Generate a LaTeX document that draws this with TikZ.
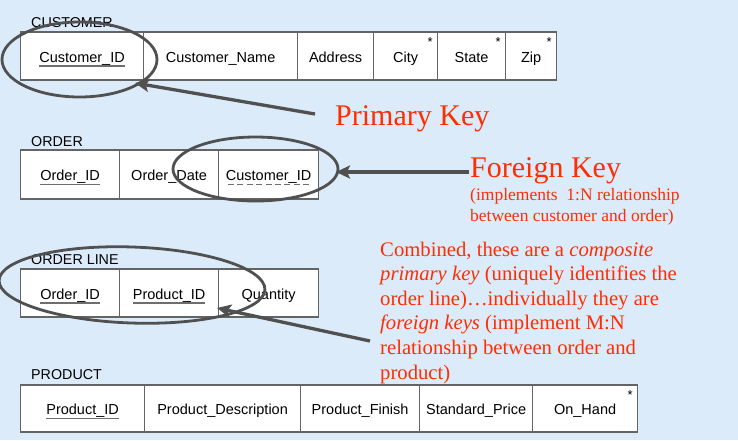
\documentclass[tikz,border=0pt]{standalone}
\usepackage{fontspec}
\setmainfont{Liberation Serif}
\newfontfamily\arialfont{Liberation Sans}
\usetikzlibrary{shapes.geometric,arrows.meta,calc}
\definecolor{bgblue}{RGB}{220,235,250}
\definecolor{keyred}{RGB}{255,45,0}
\definecolor{linegray}{RGB}{80,80,80}
\definecolor{cellgray}{RGB}{100,100,100}
\definecolor{ulgray}{RGB}{110,110,110}
\newcommand\pkul[1]{\setbox0\hbox{#1}\rlap{\color{ulgray}\rule[-4.5pt]{\wd0}{1.3pt}}\box0}
\newcommand\fkul[1]{\setbox0\hbox{#1}\rlap{\color{ulgray}\hbox to \wd0{\xleaders\hbox to 9pt{\hss\rule[-4.5pt]{6pt}{1.3pt}\hss}\hfill}}\box0}
\begin{document}
\begin{tikzpicture}[x=1pt,y=-1pt,
  cell/.style={draw=cellgray, line width=1.2pt, fill=white, inner sep=0pt,
    font=\arialfont\fontsize{14.5}{16}\selectfont, text height=12pt, text depth=0pt, anchor=west},
  tlabel/.style={anchor=base west, inner sep=0pt, font=\arialfont\fontsize{14.3}{16}\selectfont},
  astx/.style={inner sep=0pt, font=\arialfont\fontsize{13}{13}\selectfont},
  keyell/.style={draw=linegray, line width=2.8pt, ellipse, inner sep=0pt},
  keyarrow/.style={draw=linegray, line width=3.3pt, -{Stealth[length=14pt,width=13pt,inset=3pt]}},
  redtxt/.style={text=keyred, inner sep=0pt, anchor=base west, align=left}
]
\fill[bgblue] (0,0) rectangle (738,440);
\useasboundingbox (0,0) rectangle (738,440);

% CUSTOMER
\node[tlabel] (lcust) at (31,27) {CUSTOMER};
\node[cell, minimum width=123pt, minimum height=48pt] (cuid) at (20,56) {\pkul{Customer\_ID}};
\node[cell, minimum width=154pt, minimum height=48pt] (cuname) at (143,56) {Customer\_Name};
\node[cell, minimum width=76pt, minimum height=48pt] (cuaddr) at (297,56) {Address};
\node[cell, minimum width=64pt, minimum height=48pt] (cucity) at (373,56) {City};
\node[cell, minimum width=68pt, minimum height=48pt] (custate) at (437,56) {State};
\node[cell, minimum width=51pt, minimum height=48pt] (cuzip) at (505,56) {Zip};
\node[astx] (a1) at ([shift={(-8,11)}]cucity.north east) {*};
\node[astx] (a2) at ([shift={(-8,11)}]custate.north east) {*};
\node[astx] (a3) at ([shift={(-8,11)}]cuzip.north east) {*};

% ORDER
\node[tlabel] (lorder) at (31,146) {ORDER};
\node[cell, minimum width=99pt, minimum height=49pt] (orid) at (20,174.5) {\pkul{Order\_ID}};
\node[cell, minimum width=99pt, minimum height=49pt] (ordate) at (119,174.5) {Order\_Date};
\node[cell, minimum width=100pt, minimum height=49pt] (orcust) at (218,174.5) {\fkul{Customer\_ID}};

% ORDER LINE
\node[tlabel] (lline) at (31,264) {ORDER LINE};
\node[cell, minimum width=99pt, minimum height=48pt] (olord) at (20,293) {\pkul{Order\_ID}};
\node[cell, minimum width=99pt, minimum height=48pt] (olprod) at (119,293) {\pkul{Product\_ID}};
\node[cell, minimum width=100pt, minimum height=48pt] (olqty) at (218,293) {Quantity};

% PRODUCT
\node[tlabel] (lprod) at (31,379) {PRODUCT};
\node[cell, minimum width=124pt, minimum height=47pt] (prid) at (20,408.5) {\pkul{Product\_ID}};
\node[cell, minimum width=156pt, minimum height=47pt] (prdesc) at (144,408.5) {Product\_Description};
\node[cell, minimum width=119pt, minimum height=47pt] (prfin) at (300,408.5) {Product\_Finish};
\node[cell, minimum width=113pt, minimum height=47pt] (prprice) at (419,408.5) {Standard\_Price};
\node[cell, minimum width=105pt, minimum height=47pt] (prhand) at (532,408.5) {On\_Hand};
\node[astx] (a4) at ([shift={(-8,11)}]prhand.north east) {*};

% ellipses
\node[keyell, minimum width=155pt, minimum height=75pt] (pkell) at (79.5,59.5) {};
\node[keyell, minimum width=165pt, minimum height=64pt] (fkell) at (255.5,169) {};
\node[keyell, minimum width=266pt, minimum height=76pt, rotate=-2] (cpkell) at (132,285) {};

% texts
\node[redtxt, font=\fontsize{30}{34}\selectfont] (pktxt) at (335,125) {Primary Key};
\node[redtxt, font=\fontsize{30}{34}\selectfont] (fktxt) at (470,177) {Foreign Key};
\node[redtxt, font=\fontsize{17.5}{21}\selectfont] (fknote) at (470,221.7) {(implements\ \ 1:N relationship\\between customer and order)};
\node[redtxt, font=\fontsize{20.7}{24.6}\selectfont] (cpktxt) at (380,379) {Combined, these are a \textit{composite}\\\textit{primary key} (uniquely identifies the\\order line)\ldots individually they are\\\textit{foreign keys} (implement M:N\\relationship between order and\\product)};

% arrows
\coordinate (pkfrom) at (315,114);
\coordinate (pkto) at (135,83);
\coordinate (fkfrom) at (469,172);
\coordinate (fkto) at (336,172);
\coordinate (cpkfrom) at (370,341);
\coordinate (cpkto) at (217,308);
\draw[keyarrow] (pkfrom) -- (pkto);
\draw[keyarrow] (fkfrom) -- (fkto);
\draw[keyarrow] (cpkfrom) -- (cpkto);
\end{tikzpicture}
\end{document}
